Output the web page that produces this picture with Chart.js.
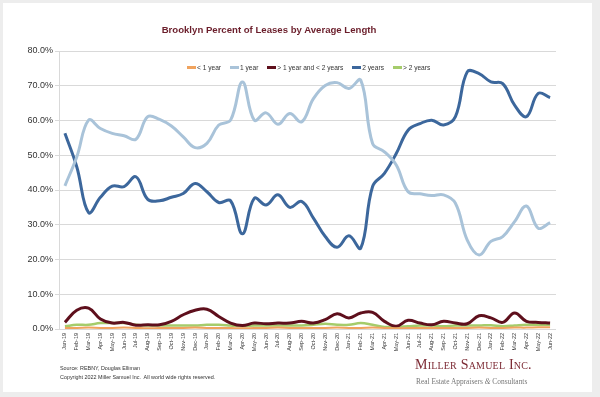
<!DOCTYPE html>
<html>
<head>
<meta charset="utf-8">
<script src="https://cdn.jsdelivr.net/npm/chart.js@4.4.1/dist/chart.umd.min.js"></script>
<style>
  html, body { margin: 0; padding: 0; }
  body { width: 600px; height: 397px; background: #ededed; position: relative; overflow: hidden;
         font-family: "Liberation Sans", Arial, sans-serif; }
  #card { position: absolute; left: 3px; top: 3px; width: 589px; height: 389px; background: #fff; }
  #chart { position: absolute; left: 0; top: 0; }
  #title { position: absolute; left: 0; width: 538px; top: 24px; text-align: center;
           font-weight: bold; font-size: 9.6px; color: #6b1e2b; }
  #legend { position: absolute; left: 187px; top: 64px; display: flex; font-size: 6.6px; color: #333; }
  #legend .item { display: flex; align-items: center; margin-right: 9px; }
  #legend .mk { width: 9px; height: 3px; margin-right: 1px; }
  .foot { position: absolute; left: 60px; font-size: 5.4px; color: #333; white-space: pre; }
  #logo1 { position: absolute; left: 415px; top: 357px; font-family: "Liberation Serif", "DejaVu Serif", serif;
           font-variant: small-caps; font-size: 14px; color: #7d2b35; letter-spacing: 0.2px; white-space: nowrap; }
  #logo2 { position: absolute; left: 416px; top: 377px; font-family: "Liberation Serif", "DejaVu Serif", serif;
           font-size: 7.4px; color: #777; white-space: nowrap; }
</style>
</head>
<body>
<div id="card"></div>
<canvas id="chart" width="600" height="397"></canvas>
<div id="title">Brooklyn Percent of Leases by Average Length</div>
<div id="legend"></div>
<div class="foot" style="top:365px">Source: REBNY, Douglas Elliman</div>
<div class="foot" style="top:374px">Copyright 2022 Miller Samuel Inc.  All world wide rights reserved.</div>
<div id="logo1">Miller Samuel Inc.</div>
<div id="logo2">Real Estate Appraisers <i>&amp;</i> Consultants</div>
<script>
const months = ['Jan-19','Feb-19','Mar-19','Apr-19','May-19','Jun-19','Jul-19','Aug-19','Sep-19','Oct-19','Nov-19','Dec-19',
  'Jan-20','Feb-20','Mar-20','Apr-20','May-20','Jun-20','Jul-20','Aug-20','Sep-20','Oct-20','Nov-20','Dec-20',
  'Jan-21','Feb-21','Mar-21','Apr-21','May-21','Jun-21','Jul-21','Aug-21','Sep-21','Oct-21','Nov-21','Dec-21',
  'Jan-22','Feb-22','Mar-22','Apr-22','May-22','Jun-22'];

const seriesNames = ['< 1 year', '1 year', '> 1 year and < 2 years', '2 years', '> 2 years'];
const seriesColors = ['#f0a35e', '#a9c3d9', '#5e0f1c', '#3c679c', '#a5cc6b'];
const seriesWidths = [2, 3, 3, 3, 2.5];

const lessThan1 = [0.3,0.3,0.4,0.3,0.3,0.4,0.3,0.2,0.3,0.3,0.3,0.4,0.3,0.3,0.3,0.2,0.3,0.3,0.4,0.3,0.3,0.3,
  0.3,0.4,0.3,0.3,0.4,0.3,0.2,0.3,0.3,0.3,0.3,0.3,0.3,0.4,0.3,0.3,0.4,0.4,0.5,0.5];
const oneYear = [41.2,49.5,60.1,57.7,56.3,55.6,54.6,61.1,60.3,58.4,55.3,52.2,53.4,58.7,60.1,71.1,60.1,62.2,58.9,62.0,59.6,66.3,
  70.1,70.9,69.2,71.6,53.4,51.0,47.2,39.5,38.9,38.4,38.6,36.2,25.6,21.3,25.2,26.6,30.9,35.4,29.0,30.6];
const oneToTwo = [1.9,5.4,6.0,2.9,1.7,1.9,1.1,1.2,1.2,2.2,4.1,5.4,5.7,3.6,1.7,1.0,1.7,1.5,1.7,1.7,2.2,1.7,
  2.7,4.4,3.2,4.6,4.8,2.2,0.8,2.5,1.7,1.2,2.2,1.7,1.5,3.8,3.2,1.9,4.6,2.2,1.9,1.7];
const twoYears = [56.3,46.7,33.5,37.9,41.1,41.0,43.8,37.3,36.9,37.9,39.0,41.9,39.5,36.4,36.9,27.4,37.6,35.7,38.6,35.0,36.7,31.9,
  26.6,23.5,26.8,23.3,41.0,44.8,50.5,57.2,59.1,60.1,58.7,61.1,74.0,73.5,71.1,70.6,64.4,61.1,67.8,66.6];
const moreThan2 = [0.8,1.2,1.2,1.7,1.7,1.7,1.2,1.0,1.0,1.0,1.0,1.0,1.2,1.2,1.0,0.8,1.0,1.0,1.0,1.0,1.0,1.2,
  1.5,1.2,1.2,1.7,1.2,0.6,0.6,0.8,1.0,1.0,0.8,1.0,1.0,1.0,1.1,0.8,1.0,1.2,1.2,1.2];

const yTicks = [0, 10, 20, 30, 40, 50, 60, 70, 80];

const seriesData = [lessThan1, oneYear, oneToTwo, twoYears, moreThan2];

// html legend, same order as the datasets
const legendEl = document.getElementById('legend');
seriesNames.forEach((name, i) => {
  const item = document.createElement('div');
  item.className = 'item';
  item.innerHTML = '<span class="mk" style="background:' + seriesColors[i] + '"></span><span>' + name + '</span>';
  legendEl.appendChild(item);
});

new Chart(document.getElementById('chart'), {
  type: 'line',
  data: {
    labels: months,
    datasets: seriesNames.map((name, i) => ({
      label: name,
      data: seriesData[i],
      borderColor: seriesColors[i],
      backgroundColor: seriesColors[i],
      borderWidth: seriesWidths[i],
      pointRadius: 0,
      tension: 0.4,
      fill: false,
    })),
  },
  options: {
    responsive: false,
    animation: false,
    layout: { padding: { left: 0, top: 51, right: 44, bottom: 38 } },
    plugins: { legend: { display: false }, tooltip: { enabled: false } },
    scales: {
      x: {
        offset: true,
        afterFit: (s) => { s.height = 30; },
        grid: { display: false, drawTicks: false },
        border: { display: false },
        ticks: { autoSkip: false, minRotation: 90, maxRotation: 90, padding: 4,
                 color: '#333', font: { family: 'Liberation Sans', size: 5.5 } },
      },
      y: {
        min: 0,
        max: 80,
        afterFit: (s) => { s.width = 59; },
        afterBuildTicks: (s) => { s.ticks = yTicks.map((v) => ({ value: v })); },
        grid: { color: '#d9d9d9', lineWidth: 1, drawTicks: true, tickLength: 4 },
        border: { display: true, color: '#d9d9d9' },
        ticks: { padding: 2, color: '#333', font: { family: 'Liberation Sans', size: 9 },
                 callback: (v) => v.toFixed(1) + '%' },
      },
    },
  },
});
</script>
</body>
</html>
